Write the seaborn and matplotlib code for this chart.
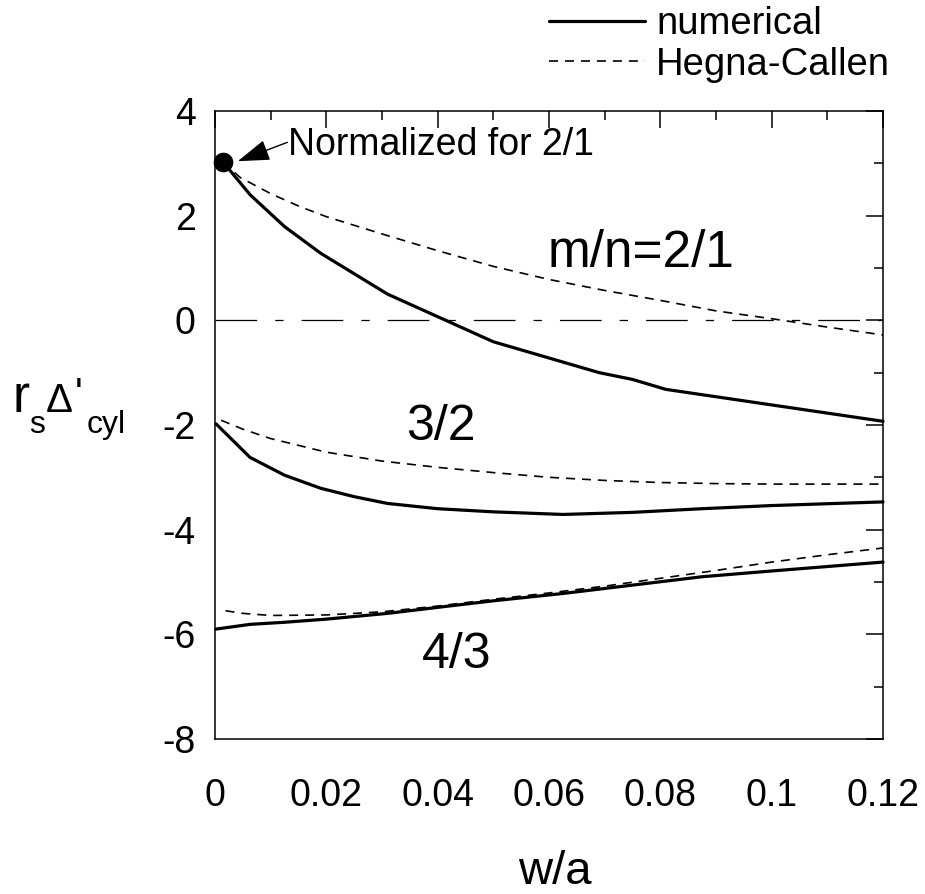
import numpy as np
import pandas as pd
import matplotlib
matplotlib.use("Agg")
import matplotlib.pyplot as plt
from matplotlib.ticker import MultipleLocator
from matplotlib.lines import Line2D
import seaborn as sns

# ---- data -------------------------------------------------------------
# m/n = 2/1
x_num21 = [0.0014, 0.0063, 0.0125, 0.019, 0.031, 0.050, 0.069, 0.075, 0.081, 0.12]
y_num21 = [3.03, 2.40, 1.79, 1.28, 0.50, -0.41, -1.00, -1.13, -1.32, -1.93]
x_hc21 = [0.0014, 0.0045, 0.01, 0.0153, 0.02, 0.03, 0.04, 0.05, 0.06, 0.07,
          0.08, 0.09, 0.10, 0.11, 0.12]
y_hc21 = [3.03, 2.73, 2.42, 2.17, 1.98, 1.65, 1.33, 1.03, 0.78, 0.57,
          0.38, 0.18, 0.03, -0.13, -0.28]

# m/n = 3/2
x_num32 = [0.0002, 0.0063, 0.0125, 0.019, 0.025, 0.031, 0.04, 0.05, 0.0625,
           0.075, 0.0875, 0.10, 0.12]
y_num32 = [-1.98, -2.62, -2.96, -3.21, -3.37, -3.50, -3.60, -3.66, -3.71,
           -3.67, -3.60, -3.54, -3.47]
x_hc32 = [0.0011, 0.005, 0.01, 0.02, 0.03, 0.04, 0.05, 0.06, 0.07, 0.08,
          0.09, 0.10, 0.11, 0.12]
y_hc32 = [-1.91, -2.08, -2.26, -2.52, -2.69, -2.81, -2.91, -3.00, -3.06, -3.10,
          -3.12, -3.13, -3.13, -3.13]

# m/n = 4/3
x_num43 = [0.0002, 0.0063, 0.0125, 0.02, 0.031, 0.042, 0.05, 0.0625, 0.075,
           0.0875, 0.10, 0.12]
y_num43 = [-5.90, -5.81, -5.77, -5.71, -5.60, -5.46, -5.36, -5.22, -5.06,
           -4.90, -4.79, -4.62]
x_hc43 = [0.0019, 0.005, 0.01, 0.02, 0.03, 0.04, 0.05, 0.06, 0.07, 0.08,
          0.09, 0.10, 0.11, 0.12]
y_hc43 = [-5.55, -5.60, -5.64, -5.63, -5.57, -5.46, -5.33, -5.21, -5.08, -4.93,
          -4.78, -4.62, -4.48, -4.35]

# normalisation point for 2/1
norm_x = [0.0014]
norm_y = [3.03]

x_ticks = [0, 0.02, 0.04, 0.06, 0.08, 0.10, 0.12]
x_ticklabels = ["0", "0.02", "0.04", "0.06", "0.08", "0.1", "0.12"]
y_ticks = [-8, -6, -4, -2, 0, 2, 4]
y_ticklabels = ["-8", "-6", "-4", "-2", "0", "2", "4"]

series_labels = ["numerical", "Hegna-Callen"]
mode_labels = ["m/n=2/1", "3/2", "4/3"]

# ---- style ------------------------------------------------------------
sns.set_theme(style="white")
plt.rcParams["font.family"] = ["Liberation Sans", "DejaVu Sans"]
plt.rcParams["lines.scale_dashes"] = False
plt.rcParams["text.color"] = "black"
plt.rcParams["axes.labelcolor"] = "black"
plt.rcParams["xtick.color"] = "black"
plt.rcParams["ytick.color"] = "black"

fig = plt.figure(figsize=(9.25, 8.94), dpi=100)
ax = fig.add_axes([0.2324, 0.1734, 0.7222, 0.7025])

solid_kw = dict(color="black", lw=2.3, linestyle="-")
dash_kw = dict(color="black", lw=1.2, linestyle=(0, (6.5, 5.0)))

frames = []
for xs, ys, mode, kind in [
    (x_num21, y_num21, "2/1", "numerical"),
    (x_hc21, y_hc21, "2/1", "Hegna-Callen"),
    (x_num32, y_num32, "3/2", "numerical"),
    (x_hc32, y_hc32, "3/2", "Hegna-Callen"),
    (x_num43, y_num43, "4/3", "numerical"),
    (x_hc43, y_hc43, "4/3", "Hegna-Callen"),
]:
    frames.append(pd.DataFrame({"w": xs, "delta": ys, "mode": mode, "kind": kind}))
df = pd.concat(frames, ignore_index=True)

for (mode, kind), sub in df.groupby(["mode", "kind"], sort=False):
    kw = solid_kw if kind == "numerical" else dash_kw
    sns.lineplot(data=sub, x="w", y="delta", ax=ax, sort=True,
                 estimator=None, clip_on=False, **kw)

# zero reference line (dash-dot)
ax.axhline(0, color="black", lw=0.9, linestyle=(0, (30, 13, 6, 13)))

# normalisation marker
sns.scatterplot(x=norm_x, y=norm_y, ax=ax, color="black", s=200,
                edgecolor="black", linewidth=0, zorder=5, clip_on=False)

ax.annotate("", xy=(0.0041, 3.04), xytext=(0.0130, 3.40),
            arrowprops=dict(arrowstyle="-|>,head_length=1.0,head_width=0.33",
                            color="black", lw=1.0, mutation_scale=20,
                            shrinkA=0, shrinkB=0))
ax.text(0.0131, 3.16, "Normalized for 2/1", fontsize=27, va="baseline",
        ha="left", color="black")

ax.text(0.0598, 1.02, mode_labels[0], fontsize=37, va="baseline", ha="left",
        color="black")
ax.text(0.0343, -2.29, mode_labels[1], fontsize=36, va="baseline", ha="left",
        color="black")
ax.text(0.0372, -6.65, mode_labels[2], fontsize=36, va="baseline", ha="left",
        color="black")

# ---- axes -------------------------------------------------------------
ax.set_xlim(0, 0.12)
ax.set_ylim(-8, 4)
ax.set_xticks(x_ticks, x_ticklabels)
ax.set_yticks(y_ticks, y_ticklabels)
ax.xaxis.set_minor_locator(MultipleLocator(0.01))
ax.yaxis.set_minor_locator(MultipleLocator(1))
ax.tick_params(which="both", direction="in", top=True, right=True,
               color="black", labelcolor="black", width=1.1)
ax.tick_params(which="major", length=12.5)
ax.tick_params(which="minor", length=6.5)
ax.tick_params(axis="x", which="major", labelsize=27, pad=28)
ax.tick_params(axis="y", which="major", labelsize=27, pad=14)
for sp in ax.spines.values():
    sp.set_visible(True)
    sp.set_color("black")
    sp.set_linewidth(1.1)
ax.set_xlabel("")
ax.set_ylabel("")

W, H = 925.0, 894.0
fig.text(555 / W, 1 - 884 / H, "w/a", fontsize=34, ha="center", va="baseline",
         color="black")

# y-axis label r_s Δ'_cyl built from pieces
ylab_kw = dict(ha="left", va="baseline", color="black")
fig.text(12 / W, 1 - 412 / H, "r", fontsize=37, **ylab_kw)
fig.text(29 / W, 1 - 433 / H, "s", fontsize=23, **ylab_kw)
fig.text(46 / W, 1 - 412 / H, "\u0394", fontsize=29, **ylab_kw)
fig.text(75 / W, 1 - 406 / H, "'", fontsize=29, **ylab_kw)
fig.text(87 / W, 1 - 433 / H, "cyl", fontsize=23, **ylab_kw)

# ---- legend -----------------------------------------------------------
handles = [Line2D([], [], **solid_kw), Line2D([], [], **dash_kw)]
leg = fig.legend(handles, series_labels, loc="upper right",
                 bbox_to_anchor=(890 / W, 1 - 6 / H), frameon=False,
                 fontsize=27.5, handlelength=2.5, handletextpad=0.3,
                 labelspacing=0.12, borderpad=0.0, borderaxespad=0.0)
for t in leg.get_texts():
    t.set_color("black")

fig.savefig("out.png", dpi=100)
